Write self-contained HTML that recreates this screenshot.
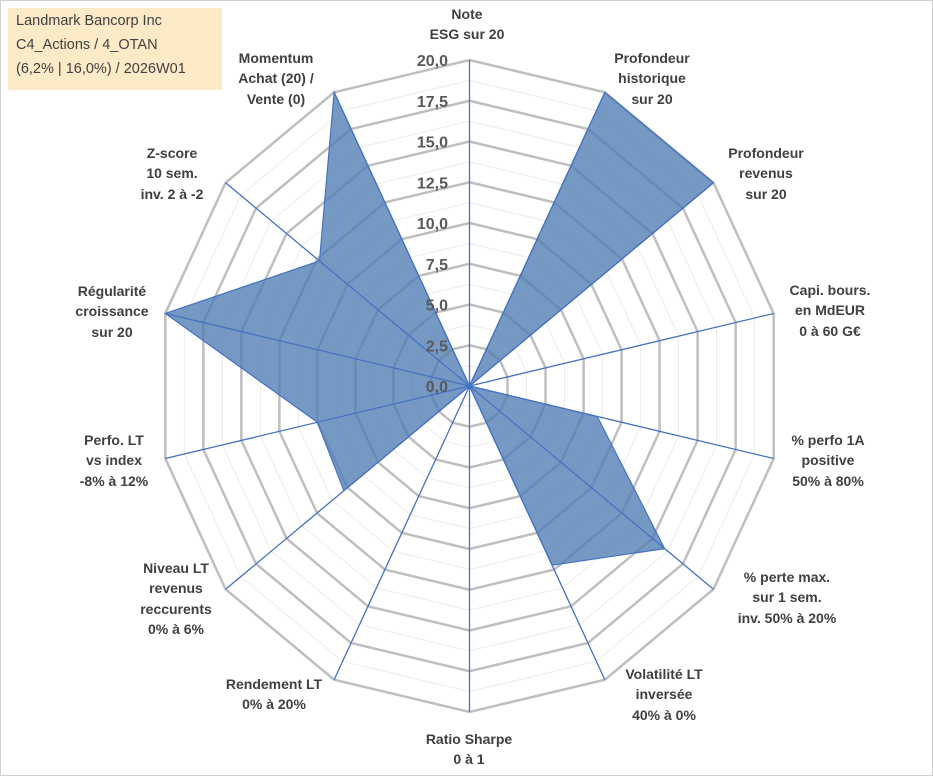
<!DOCTYPE html>
<html><head><meta charset="utf-8"><style>
body{margin:0;background:#fff;}
#wrap{position:relative;width:933px;height:776px;overflow:hidden;font-family:"Liberation Sans",sans-serif;}
.lbl{position:absolute;transform:translateX(-50%);text-align:center;font-weight:bold;font-size:14px;line-height:20.3px;color:#404040;white-space:nowrap;}
#title{position:absolute;left:8px;top:8px;width:214px;height:82px;background:#fdebc8;font-size:14.5px;line-height:24px;color:#404040;padding:0 0 0 8px;box-sizing:border-box;padding-top:1px;}
</style></head><body>
<div id="wrap">
<svg id="svg" width="933" height="776" style="position:absolute;left:0;top:0">
<rect x="0.5" y="0.5" width="932" height="775" fill="none" stroke="#d0d0d0"/>
</svg>
<div id="title">Landmark Bancorp Inc<br>C4_Actions / 4_OTAN<br>(6,2% | 16,0%) / 2026W01</div>
</div>
<script>
const categories=["Note\nESG sur 20","Profondeur\nhistorique\nsur 20","Profondeur\nrevenus\nsur 20","Capi. bours.\nen MdEUR\n0 à 60 G€","% perfo 1A\npositive\n50% à 80%","% perte max.\nsur 1 sem.\ninv. 50% à 20%","Volatilité LT\ninversée\n40% à 0%","Ratio Sharpe\n0 à 1","Rendement LT\n0% à 20%","Niveau LT\nrevenus\nreccurents\n0% à 6%","Perfo. LT\nvs index\n-8% à 12%","Régularité\ncroissance\nsur 20","Z-score\n10 sem.\ninv. 2 à -2","Momentum\nAchat (20) /\nVente (0)"];
const values=[0,20,20,0,8.4,16,12.2,0,0,10.3,10,20,12.3,20];
const tickLabels=["0,0","2,5","5,0","7,5","10,0","12,5","15,0","17,5","20,0"];
const maxVal=20;
const cx=469.5,cy=386,rx=312,ry=326;
const labelPos=[[467,14],[652,58],[766,153],[830,290],[828,440],[787,577],[664,674],[469,739],[274,684],[176,568],[114,440],[112,291],[172,153],[276,58]];
const svg=document.getElementById('svg');
const NS='http://www.w3.org/2000/svg';
const n=categories.length;
function ang(i){return i*2*Math.PI/n;}
function pt(i,v){const a=ang(i);return [cx+Math.sin(a)*rx*v/maxVal, cy-Math.cos(a)*ry*v/maxVal];}
function mk(tag,attrs){const e=document.createElementNS(NS,tag);for(const k in attrs)e.setAttribute(k,attrs[k]);svg.appendChild(e);return e;}
// minor rings
for(let k=1;k<=16;k++){
  const v=k*1.25;const major=k%2===0;
  const p=[];for(let i=0;i<n;i++)p.push(pt(i,v).join(','));
  const e=mk('polygon',{points:p.join(' '),fill:'none',stroke:major?'#bfbfbf':'#ececec','stroke-width':major?2.5:1});
  
  
}
// series
const sp=values.map((v,i)=>pt(i,v).join(',')).join(' ');
const poly=mk('polygon',{points:sp,fill:'rgba(80,124,180,0.78)',stroke:'#4472c4','stroke-width':1.2});


// axes
for(let i=0;i<n;i++){
  const [x,y]=pt(i,maxVal);
  const l=mk('line',{x1:cx,y1:cy,x2:x,y2:y,stroke:'#4472c4','stroke-width':1.3});
  
  
}
// ticks
tickLabels.forEach((t,k)=>{
  const v=k*2.5;const y=cy-ry*v/maxVal;
  const e=mk('text',{x:448,y:y+6,'text-anchor':'end','font-size':16,'font-weight':'bold',fill:'#595959','font-family':'Liberation Sans, sans-serif'});
  e.textContent=t;
  
  
});
const wrap=document.getElementById('wrap');
categories.forEach((c,i)=>{
  const d=document.createElement('div');
  d.className='lbl';
  
  
  d.innerHTML=c.split('\n').join('<br>');
  d.style.left=labelPos[i][0]+'px';
  d.style.top=(labelPos[i][1]-10)+'px';
  wrap.appendChild(d);
});
</script>
</body></html>
